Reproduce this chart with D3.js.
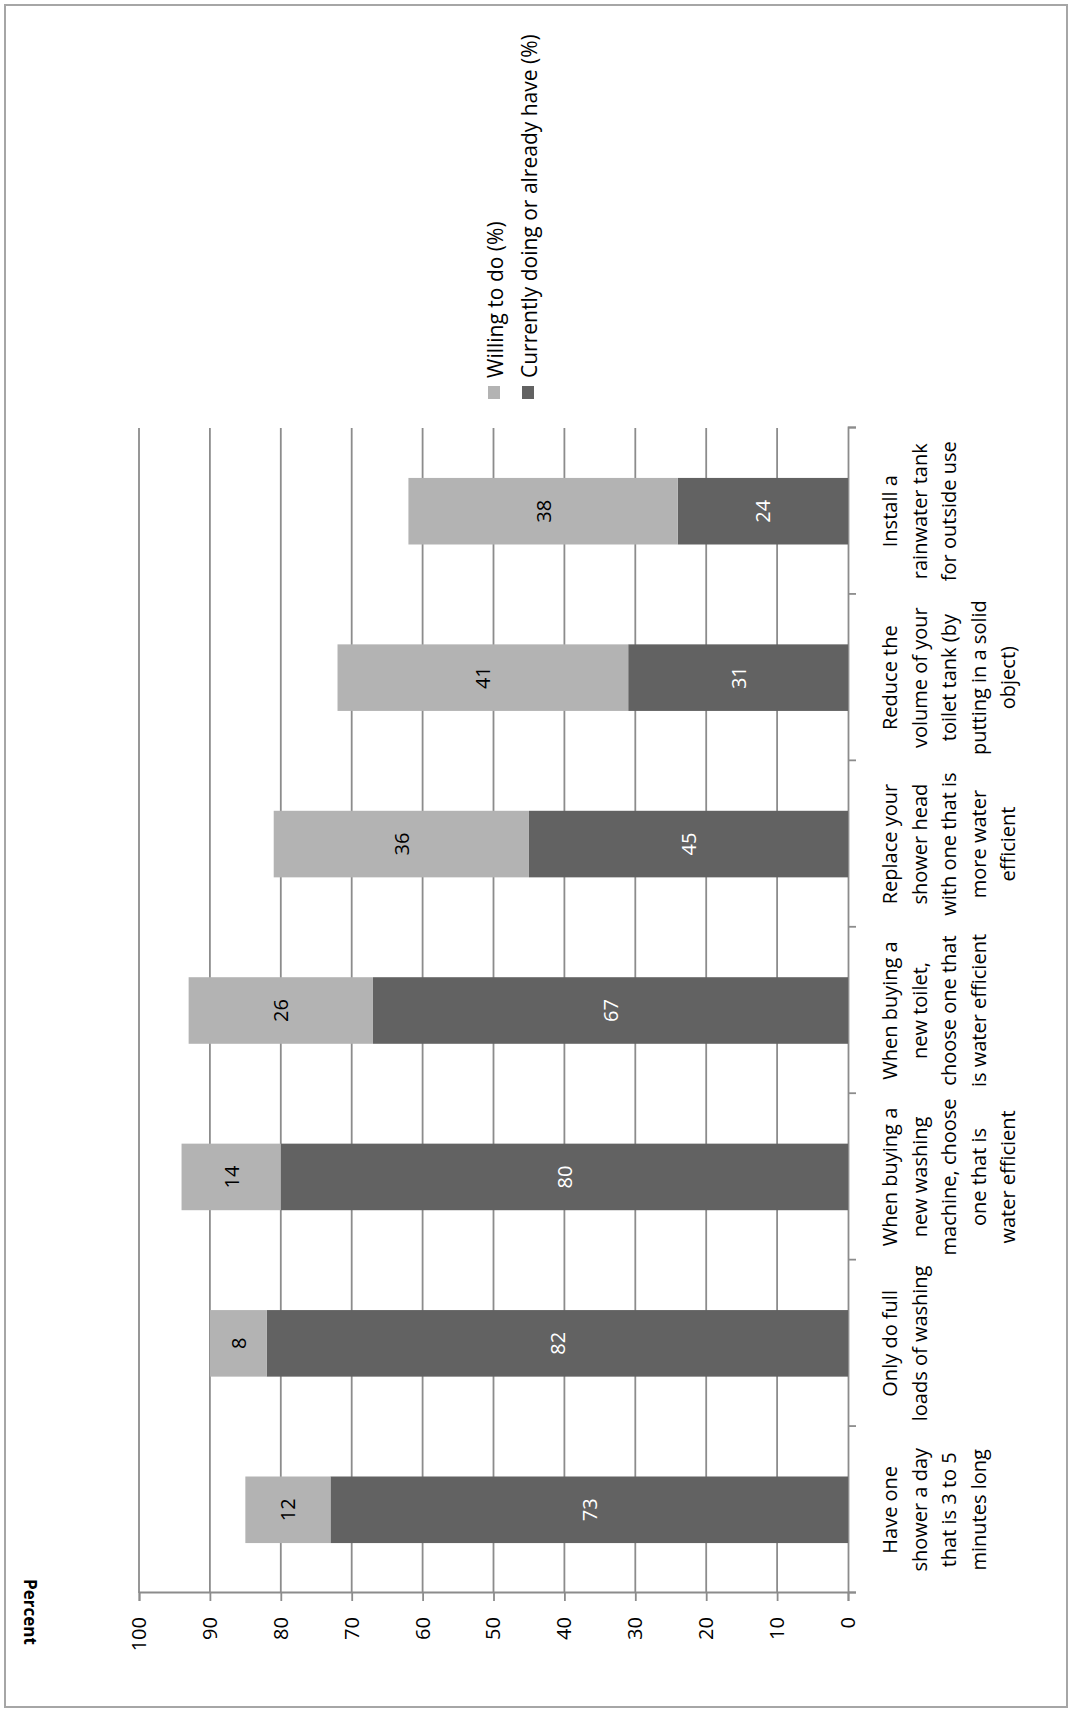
<!DOCTYPE html>
<html>
<head>
<meta charset="utf-8">
<script src="https://cdn.jsdelivr.net/npm/d3@7"></script>
<style>
  body { margin: 0; background: #fff; }
  text { font-family: "Open Sans", sans-serif; }
</style>
</head>
<body>
<div id="chart"></div>
<script>
// categories (each label already split into its lines)
var categories = [
  ["Have one", "shower a day", "that is 3 to 5", "minutes long"],
  ["Only do full", "loads of washing"],
  ["When buying a", "new washing", "machine, choose", "one that is", "water efficient"],
  ["When buying a", "new toilet,", "choose one that", "is water efficient"],
  ["Replace your", "shower head", "with one that is", "more water", "efficient"],
  ["Reduce the", "volume of your", "toilet tank (by", "putting in a solid", "object)"],
  ["Install a", "rainwater tank", "for outside use"]
];
var currentlyDoing = [73, 82, 80, 67, 45, 31, 24];
var willingTo = [12, 8, 14, 26, 36, 41, 38];
var seriesNames = ["Willing to do (%)", "Currently doing or already have (%)"];
var valueTicks = [0, 10, 20, 30, 40, 50, 60, 70, 80, 90, 100];

var svgWidth = 1071;
var svgHeight = 1711;

// the chart is laid out as a normal column chart, then turned a quarter left
var W = svgHeight, H = svgWidth;

var svg = d3.select("#chart")
  .append("svg")
  .attr("width", svgWidth)
  .attr("height", svgHeight);

var g = svg.append("g")
  .attr("transform", `translate(0, ${svgHeight}) rotate(-90)`);

// outer frame
g.append("rect")
  .attr("x", 4).attr("y", 5)
  .attr("width", W - 9).attr("height", H - 9)
  .attr("fill", "none")
  .attr("stroke", "#a6a6a6")
  .attr("stroke-width", 2);

var plot = { left: 118, right: 1283, top: 139, bottom: 848 };

var keys = categories.map((d, i) => i);

var xScale = d3.scaleBand()
  .domain(keys)
  .range([plot.left, plot.right])
  .paddingInner(0.6)
  .paddingOuter(0.3);

var yScale = d3.scaleLinear()
  .domain([0, 100])
  .range([plot.bottom, plot.top]);

// gridlines
g.append("g")
  .selectAll("line")
  .data(valueTicks.filter(v => v > 0))
  .enter()
  .append("line")
  .attr("x1", plot.left).attr("x2", plot.right)
  .attr("y1", d => yScale(d)).attr("y2", d => yScale(d))
  .attr("stroke", "#8c8c8c")
  .attr("stroke-width", 1.8);

// value axis
var yAxis = d3.axisLeft(yScale)
  .tickValues(valueTicks)
  .tickSize(8)
  .tickPadding(16);

var yAxisG = g.append("g")
  .attr("transform", `translate(${plot.left}, 0)`)
  .call(yAxis);
yAxisG.selectAll("path, line").attr("stroke", "#8c8c8c").attr("stroke-width", 1.8);
yAxisG.selectAll("text")
  .attr("font-size", 20)
  .attr("font-family", "Open Sans")
  .attr("fill", "#000");

// category axis: ticks sit between the categories
var boundScale = d3.scaleLinear()
  .domain([0, categories.length])
  .range([plot.left, plot.right]);

var xAxisG = g.append("g")
  .attr("transform", `translate(0, ${plot.bottom})`)
  .call(d3.axisBottom(boundScale).ticks(categories.length).tickSize(8).tickFormat(""));
xAxisG.selectAll("path, line").attr("stroke", "#8c8c8c").attr("stroke-width", 1.8);

// stacked bars
var stackData = keys.map(i => ({ i: i, current: currentlyDoing[i], willing: willingTo[i] }));
var stacked = d3.stack().keys(["current", "willing"])(stackData);
var colors = { current: "#626262", willing: "#b3b3b3" };
var labelColors = { current: "#fff", willing: "#000" };

stacked.forEach(function(layer) {
  var grp = g.append("g");
  grp.selectAll("rect")
    .data(layer)
    .enter()
    .append("rect")
    .attr("x", d => xScale(d.data.i))
    .attr("width", xScale.bandwidth())
    .attr("y", d => yScale(d[1]))
    .attr("height", d => yScale(d[0]) - yScale(d[1]))
    .attr("fill", colors[layer.key]);

  grp.selectAll("text")
    .data(layer)
    .enter()
    .append("text")
    .attr("x", d => xScale(d.data.i) + xScale.bandwidth() / 2)
    .attr("y", d => (yScale(d[0]) + yScale(d[1])) / 2)
    .attr("text-anchor", "middle")
    .attr("dominant-baseline", "central")
    .attr("font-size", 20)
    .attr("fill", labelColors[layer.key])
    .text(d => d.data[layer.key]);
});

// category labels
var catLabels = g.append("g")
  .selectAll("text")
  .data(keys)
  .enter()
  .append("text")
  .attr("text-anchor", "middle")
  .attr("font-size", 20)
  .attr("fill", "#000");

catLabels.selectAll("tspan")
  .data(i => categories[i].map(line => ({ i: i, line: line })))
  .enter()
  .append("tspan")
  .attr("x", d => xScale(d.i) + xScale.bandwidth() / 2)
  .attr("y", (d, j) => 897 + j * 29.5)
  .text(d => d.line);

// axis title (runs top to bottom on the page)
g.append("text")
  .attr("transform", "translate(99, 30) rotate(180)")
  .attr("text-anchor", "middle")
  .attr("dominant-baseline", "central")
  .attr("font-size", 17)
  .attr("font-weight", "bold")
  .text("Percent");

// legend
var legendColors = ["#b3b3b3", "#626262"];
var legend = g.append("g")
  .selectAll("g")
  .data(seriesNames)
  .enter()
  .append("g")
  .attr("transform", (d, i) => `translate(1312, ${488 + i * 34})`);

legend.append("rect")
  .attr("width", 13)
  .attr("height", 12)
  .attr("fill", (d, i) => legendColors[i]);

legend.append("text")
  .attr("x", 21)
  .attr("y", 7)
  .attr("dominant-baseline", "central")
  .attr("font-size", 21)
  .text(d => d);
</script>
</body>
</html>
